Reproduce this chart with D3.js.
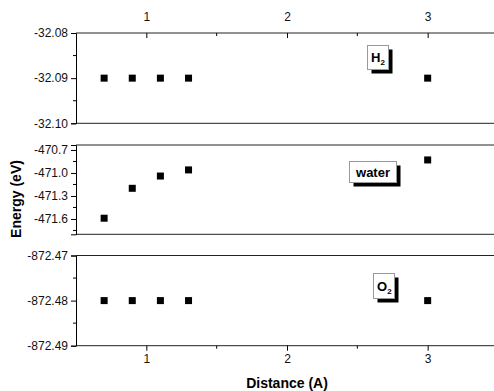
<!DOCTYPE html>
<html><head><meta charset="utf-8">
<script src="https://cdn.jsdelivr.net/npm/d3@7"></script>
<style>
html,body{margin:0;padding:0;background:#fff;}
svg{display:block;font-family:"Liberation Sans",Arial,sans-serif;}
</style></head>
<body>
<svg id="c" width="494" height="391"></svg>
<script>
const distances = [0.7, 0.9, 1.1, 1.3, 3.0];
const h2Energy = [-32.09, -32.09, -32.09, -32.09, -32.09];
const waterEnergy = [-471.59, -471.20, -471.04, -470.96, -470.83];
const o2Energy = [-872.48, -872.48, -872.48, -872.48, -872.48];
const xTicks = [1, 2, 3];
const h2Ticks = [-32.08, -32.09, -32.10];
const waterTicks = [-470.7, -471.0, -471.3, -471.6];
const o2Ticks = [-872.47, -872.48, -872.49];

const svg = d3.select("#c");
const x = d3.scaleLinear().domain([0.5, 3.5]).range([76, 498]);
const hy = s => s.replace(/\u2212/g, "-");

const panels = [
  {vals: h2Energy, ticks: h2Ticks, dom: [-32.10, -32.08], rng: [123.3, 33], fmt: d3.format(".2f"), minor: [-32.085, -32.095], label: "H", sub: "2", box: [367, 45, 21, 24]},
  {vals: waterEnergy, ticks: waterTicks, dom: [-471.8, -470.635], rng: [234.3, 145], fmt: d3.format(".1f"), minor: [-470.85, -471.15, -471.45, -471.75], label: "water", sub: "", box: [349, 161, 47, 21]},
  {vals: o2Energy, ticks: o2Ticks, dom: [-872.49, -872.47], rng: [345.7, 255.5], fmt: d3.format(".2f"), minor: [-872.475, -872.485], label: "O", sub: "2", box: [373, 273, 21, 25]}
];

panels.forEach((p, i) => {
  const y = d3.scaleLinear().domain(p.dom).range(p.rng);
  const g = svg.append("g");
  g.append("line").attr("x1", 76).attr("x2", 498).attr("y1", p.rng[1]).attr("y2", p.rng[1]).attr("stroke", "#222").attr("stroke-width", 1);
  g.append("line").attr("x1", 76).attr("x2", 498).attr("y1", p.rng[0]).attr("y2", p.rng[0]).attr("stroke", "#222").attr("stroke-width", 1);
  const ya = d3.axisLeft(y).tickValues(p.ticks).tickFormat(d => hy(p.fmt(d))).tickSizeOuter(0).tickSize(5).tickPadding(3);
  const yg = g.append("g").attr("transform", "translate(76,0)").call(ya);
  yg.select(".domain").attr("stroke", "#000");
  yg.selectAll("text").attr("font-size", 12).attr("fill", "#111").attr("font-family", "Liberation Sans, Arial, sans-serif");
  g.selectAll(".mt").data(p.minor).enter().append("line")
    .attr("x1", 73).attr("x2", 76).attr("y1", d => y(d)).attr("y2", d => y(d)).attr("stroke", "#000");
  g.selectAll(".pt").data(distances.map((d, j) => [d, p.vals[j]])).enter().append("rect")
    .attr("x", d => x(d[0]) - 3.5).attr("y", d => y(d[1]) - 3.5).attr("width", 7).attr("height", 7).attr("fill", "#000");
  const [bx, by, bw, bh] = p.box;
  g.append("rect").attr("x", bx + 4.5).attr("y", by + 4.5).attr("width", bw).attr("height", bh).attr("fill", "#000");
  g.append("rect").attr("x", bx + 0.5).attr("y", by + 0.5).attr("width", bw).attr("height", bh).attr("fill", "#fff").attr("stroke", "#999").attr("stroke-width", 1);
  const t = g.append("text").attr("x", bx + (p.sub ? 4 : bw / 2 + 0.5)).attr("y", by + bh / 2 + 5)
    .attr("font-size", 13).attr("font-weight", "bold").attr("text-anchor", p.sub ? "start" : "middle").attr("fill", "#000");
  t.append("tspan").text(p.label);
  if (p.sub) t.append("tspan").attr("font-size", 8).attr("dy", 3).text(p.sub);
});

const xt = d3.axisTop(x).tickValues(xTicks).tickFormat(d3.format("d")).tickSizeOuter(0).tickSize(-5).tickPadding(12);
const xtg = svg.append("g").attr("transform", "translate(0,33)").call(xt);
xtg.select(".domain").remove();
xtg.selectAll("text").attr("font-size", 12).attr("fill", "#111");
svg.selectAll(".mxt").data([1.5, 2.5]).enter().append("line")
  .attr("x1", d => x(d)).attr("x2", d => x(d)).attr("y1", 33).attr("y2", 36).attr("stroke", "#000");

const xb = d3.axisBottom(x).tickValues(xTicks).tickFormat(d3.format("d")).tickSizeOuter(0).tickSize(5).tickPadding(4);
const xbg = svg.append("g").attr("transform", "translate(0,345.7)").call(xb);
xbg.select(".domain").remove();
xbg.selectAll("text").attr("font-size", 12).attr("fill", "#111");
svg.selectAll(".mxb").data([1.5, 2.5]).enter().append("line")
  .attr("x1", d => x(d)).attr("x2", d => x(d)).attr("y1", 345.7).attr("y2", 348.7).attr("stroke", "#000");

svg.append("text").attr("x", 287).attr("y", 388).attr("text-anchor", "middle")
  .attr("font-size", 14).attr("font-weight", "bold").text("Distance (A)");
svg.append("text").attr("transform", "translate(21,199) rotate(-90)").attr("text-anchor", "middle")
  .attr("font-size", 14).attr("font-weight", "bold").text("Energy (eV)");
</script>
</body></html>
